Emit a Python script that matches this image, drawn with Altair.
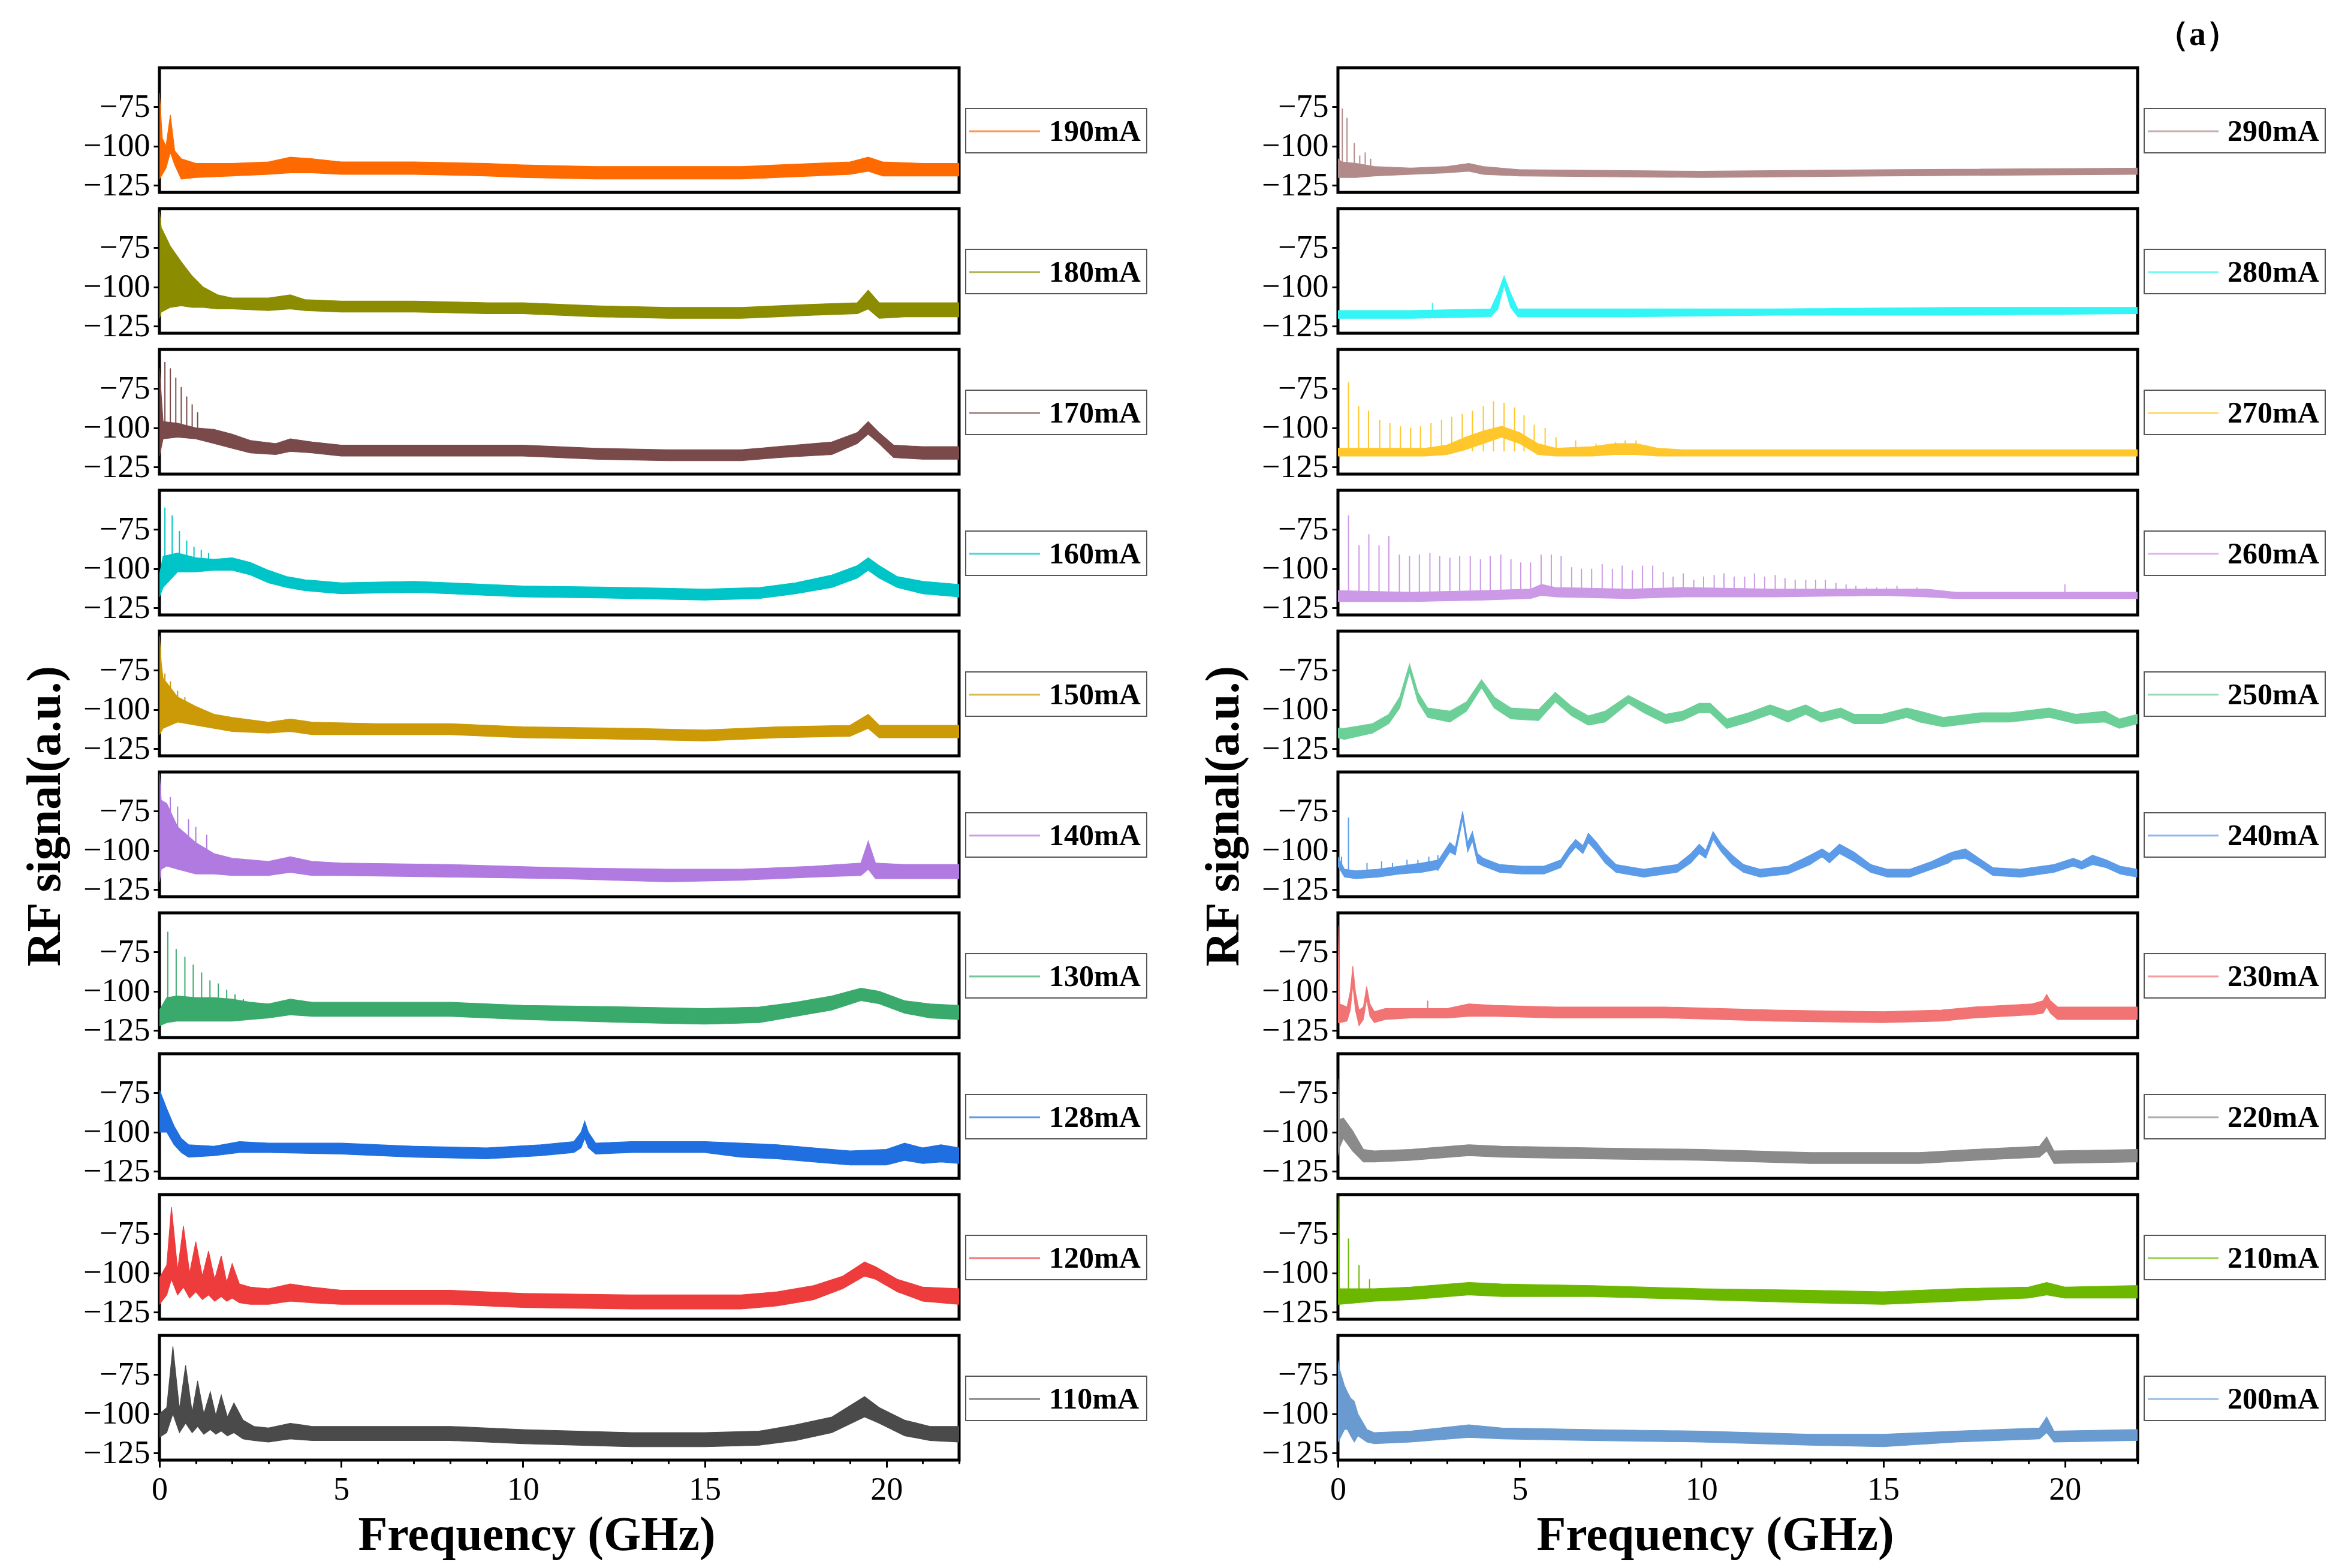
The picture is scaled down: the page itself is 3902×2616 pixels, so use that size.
import pandas as pd
import altair as alt

# ---------------- data ----------------
NAMES_LEFT = ["190mA", "180mA", "170mA", "160mA", "150mA", "140mA", "130mA", "128mA", "120mA", "110mA"]
NAMES_RIGHT = ["290mA", "280mA", "270mA", "260mA", "250mA", "240mA", "230mA", "220mA", "210mA", "200mA"]
COLORS_LEFT = ["#ff6a00", "#8c8c00", "#7a4a4a", "#00c5c8", "#cc9a06", "#b07ae0", "#3aaa6c", "#1f6fe0", "#ee3b3b", "#4a4a4a"]
COLORS_RIGHT = ["#b38a8a", "#33f5f5", "#ffc72c", "#cc99e6", "#6ccf98", "#5b9be8", "#f27373", "#8a8a8a", "#6cb800", "#6a9bd0"]

X_TICKS = [0, 1, 2, 3, 4, 5, 6, 7, 8, 9, 10, 11, 12, 13, 14, 15, 16, 17, 18, 19, 20, 21, 22]
Y_TICKS = [-75, -100, -125]

# 190 mA
F_190 = [0, 0.08, 0.18, 0.3, 0.42, 0.6, 1.0, 2.0, 3.0, 3.6, 4.2, 5.0, 7.0, 9.0, 10.0, 12.0, 14.0, 16.0, 17.0, 18.0, 19.0, 19.5, 19.9, 21.0, 22.0]
HI_190 = [-66, -95, -100, -80, -103, -108, -111, -111, -110, -107, -108, -110, -110, -111, -112, -113, -113, -113, -112, -111, -110, -107, -110, -111, -111]
LO_190 = [-121, -118, -114, -104, -112, -121, -120, -119, -118, -117, -117, -118, -118, -119, -120, -121, -121, -121, -120, -119, -118, -116, -119, -119, -119]
SF_190, SY_190, B_190 = [], [], -115

# 180 mA
F_180 = [0, 0.05, 0.3, 0.6, 0.9, 1.2, 1.6, 2.0, 3.0, 3.6, 4.0, 5.0, 7.0, 9.0, 10.0, 12.0, 14.0, 16.0, 17.0, 18.0, 19.2, 19.5, 19.8, 20.5, 22.0]
HI_180 = [-52, -62, -74, -84, -93, -100, -105, -107, -107, -105, -108, -109, -109, -110, -110, -112, -113, -113, -112, -111, -110, -102, -110, -110, -110]
LO_180 = [-120, -116, -113, -112, -113, -113, -114, -114, -115, -114, -115, -116, -116, -117, -117, -119, -120, -120, -119, -118, -117, -114, -120, -119, -119]
SF_180, SY_180, B_180 = [], [], -115

# 170 mA
F_170 = [0, 0.1, 0.5, 1.0, 1.5, 2.0, 2.5, 3.2, 3.6, 4.2, 5.0, 7.0, 10.0, 12.0, 14.0, 16.0, 17.0, 18.5, 19.2, 19.5, 19.8, 20.2, 21.0, 22.0]
HI_170 = [-62, -96, -97, -100, -101, -104, -108, -110, -107, -109, -111, -111, -111, -113, -114, -114, -112, -109, -103, -96, -103, -111, -112, -112]
LO_170 = [-118, -107, -106, -107, -110, -113, -116, -117, -115, -116, -118, -118, -118, -120, -121, -121, -119, -117, -110, -104, -110, -119, -120, -120]
SF_170 = [0.15, 0.3, 0.45, 0.6, 0.75, 0.9, 1.05]
SY_170 = [-58, -62, -68, -74, -80, -85, -90]
B_170 = -100

# 160 mA
F_160 = [0, 0.1, 0.5, 1.0, 1.5, 2.0, 2.5, 3.0, 3.5, 4.0, 5.0, 7.0, 10.0, 13.0, 15.0, 16.5, 17.5, 18.5, 19.2, 19.5, 19.8, 20.3, 21.0, 22.0]
HI_160 = [-104, -92, -90, -93, -94, -93, -96, -101, -105, -107, -109, -108, -111, -112, -113, -112, -109, -104, -98, -93, -98, -105, -108, -110]
LO_160 = [-118, -112, -102, -102, -101, -101, -104, -109, -112, -114, -116, -115, -118, -119, -120, -119, -116, -112, -106, -101, -106, -112, -116, -118]
SF_160 = [0.15, 0.35, 0.55, 0.75, 0.95, 1.15, 1.35]
SY_160 = [-61, -66, -76, -82, -86, -88, -90]
B_160 = -98

# 150 mA
F_150 = [0, 0.05, 0.1, 0.5, 1.0, 1.5, 2.0, 3.0, 3.6, 4.2, 6.0, 8.0, 10.0, 13.0, 15.0, 17.0, 19.0, 19.5, 19.8, 21.0, 22.0]
HI_150 = [-53, -70, -80, -92, -98, -103, -105, -108, -106, -108, -109, -109, -111, -112, -113, -111, -110, -103, -110, -110, -110]
LO_150 = [-116, -114, -112, -108, -110, -112, -114, -115, -114, -116, -116, -116, -118, -119, -120, -118, -117, -112, -118, -118, -118]
SF_150 = [0.15, 0.3, 0.5, 0.7]
SY_150 = [-77, -82, -88, -92]
B_150 = -105

# 140 mA
F_140 = [0, 0.05, 0.2, 0.5, 1.0, 1.5, 2.0, 3.0, 3.6, 4.2, 5.0, 8.0, 11.0, 14.0, 16.0, 18.0, 19.3, 19.5, 19.7, 20.5, 22.0]
HI_140 = [-51, -68, -70, -85, -95, -102, -105, -107, -104, -107, -108, -109, -111, -112, -112, -110, -108, -94, -108, -109, -109]
LO_140 = [-120, -112, -110, -112, -115, -115, -116, -116, -114, -116, -116, -117, -118, -120, -119, -117, -116, -112, -118, -118, -118]
SF_140 = [0.3, 0.5, 0.8, 1.0, 1.3]
SY_140 = [-66, -72, -80, -85, -90]
B_140 = -100

# 130 mA
F_130 = [0, 0.2, 0.5, 1.0, 1.5, 2.0, 2.5, 3.0, 3.6, 4.2, 5.0, 8.0, 10.0, 13.0, 15.0, 16.5, 17.5, 18.5, 19.3, 19.8, 20.5, 21.2, 22.0]
HI_130 = [-112, -104, -103, -104, -104, -105, -107, -108, -105, -107, -107, -107, -109, -110, -111, -110, -107, -103, -98, -100, -106, -108, -109]
LO_130 = [-122, -120, -119, -119, -119, -119, -118, -117, -115, -116, -116, -116, -118, -120, -121, -120, -116, -112, -106, -108, -114, -117, -118]
SF_130 = [0.23, 0.46, 0.7, 0.93, 1.16, 1.39, 1.62, 1.85, 2.08, 2.31, 2.54]
SY_130 = [-62, -73, -78, -83, -88, -93, -95, -99, -102, -105, -107]
B_130 = -117

# 128 mA
F_128 = [0, 0.2, 0.4, 0.6, 0.8, 1.5, 2.2, 3.0, 5.0, 7.0, 9.0, 10.5, 11.4, 11.6, 11.7, 11.8, 12.0, 13.0, 15.0, 16.0, 17.0, 18.0, 19.0, 20.0, 20.5, 21.0, 21.5, 22.0]
HI_128 = [-73, -85, -96, -104, -108, -109, -106, -107, -107, -109, -110, -108, -106, -100, -93, -100, -107, -106, -106, -107, -108, -110, -112, -111, -107, -110, -108, -110]
LO_128 = [-100, -100, -108, -113, -116, -115, -113, -113, -114, -116, -117, -115, -113, -110, -104, -110, -114, -113, -113, -116, -117, -119, -121, -121, -118, -120, -119, -120]
SF_128, SY_128, B_128 = [], [], -115

# 120 mA
F_120 = [0, 0.2, 0.33, 0.5, 0.66, 0.83, 1.0, 1.18, 1.35, 1.52, 1.7, 1.85, 2.0, 2.2, 2.5, 3.0, 3.6, 4.2, 5.0, 8.0, 10.0, 13.0, 16.0, 17.0, 18.0, 18.8, 19.4, 19.7, 20.3, 21.0, 22.0]
HI_120 = [-103, -95, -58, -98, -70, -100, -80, -102, -86, -104, -89, -106, -94, -107, -109, -110, -107, -109, -111, -111, -113, -114, -114, -112, -108, -102, -93, -96, -104, -109, -110]
LO_120 = [-120, -114, -104, -114, -109, -116, -112, -117, -114, -118, -115, -118, -116, -119, -120, -120, -118, -119, -120, -120, -122, -123, -123, -121, -117, -110, -102, -104, -112, -118, -120]
SF_120, SY_120, B_120 = [], [], -115

# 110 mA
F_110 = [0, 0.2, 0.37, 0.55, 0.72, 0.9, 1.05, 1.22, 1.4, 1.55, 1.7, 1.87, 2.05, 2.3, 2.6, 3.0, 3.6, 4.2, 5.0, 8.0, 10.0, 13.0, 15.0, 16.5, 17.5, 18.5, 19.4, 19.8, 20.5, 21.2, 22.0]
HI_110 = [-100, -96, -57, -97, -69, -99, -79, -100, -86, -101, -88, -102, -93, -104, -108, -109, -106, -108, -108, -108, -110, -112, -112, -111, -107, -102, -89, -96, -104, -108, -108]
LO_110 = [-115, -112, -100, -112, -106, -112, -108, -113, -110, -113, -111, -114, -112, -116, -117, -118, -116, -117, -117, -117, -119, -121, -121, -120, -117, -112, -102, -106, -114, -117, -118]
SF_110, SY_110, B_110 = [], [], -115

# 290 mA
F_290 = [0, 0.1, 0.5, 1.0, 2.0, 3.0, 3.6, 4.0, 5.0, 10.0, 15.0, 22.0]
HI_290 = [-108, -110, -111, -113, -114, -113, -111, -113, -115, -116, -115, -114]
LO_290 = [-120, -120, -120, -119, -118, -117, -116, -118, -119, -120, -119, -118]
SF_290 = [0.12, 0.25, 0.45, 0.6, 0.75, 0.9]
SY_290 = [-76, -82, -98, -106, -104, -108]
B_290 = -114

# 280 mA
F_280 = [0, 2.0, 4.2, 4.4, 4.57, 4.75, 4.95, 5.5, 8.0, 12.0, 17.0, 22.0]
HI_280 = [-115, -115, -114, -104, -93, -104, -114, -114, -114, -114, -113, -113]
LO_280 = [-120, -120, -119, -114, -99, -113, -119, -119, -119, -118, -118, -117]
SF_280 = [2.6]
SY_280 = [-110]
B_280 = -116

# 270 mA
F_270 = [0, 2.4, 3.0, 3.5, 4.0, 4.5, 5.0, 5.5, 6.0, 7.0, 7.6, 8.2, 8.8, 9.5, 15.0, 22.0]
HI_270 = [-113, -113, -111, -106, -102, -99, -103, -110, -113, -112, -110, -110, -113, -114, -114, -114]
LO_270 = [-118, -118, -117, -114, -110, -106, -110, -117, -118, -118, -117, -117, -118, -118, -118, -118]
SF_270 = [0.29, 0.57, 0.84, 1.15, 1.43, 1.72, 2.0, 2.27, 2.56, 2.85, 3.13, 3.42, 3.7, 4.0, 4.28, 4.57, 4.86, 5.12, 5.4, 5.7, 6.0, 6.54, 7.1, 7.64, 7.9, 8.2, 8.48]
SY_270 = [-71, -86, -89, -95, -97, -99, -100, -99, -97, -95, -93, -91, -89, -86, -83, -84, -87, -92, -98, -100, -106, -108, -110, -109, -108, -108, -111]
B_270 = -115

# 260 mA
F_260 = [0, 2.0, 4.0, 5.3, 5.6, 6.0, 8.0, 9.5, 12.0, 15.0, 16.2, 17.0, 22.0]
HI_260 = [-114, -115, -114, -113, -110, -112, -113, -112, -113, -113, -113, -115, -115]
LO_260 = [-121, -121, -120, -119, -117, -118, -119, -118, -118, -117, -118, -119, -119]
SF_260 = [0.29, 0.58, 0.85, 1.13, 1.40, 1.69, 1.97, 2.24, 2.53, 2.80,
          3.08, 3.35, 3.64, 3.92, 4.19, 4.48, 4.76, 5.03, 5.30, 5.59,
          5.87, 6.14, 6.43, 6.70, 6.98, 7.27, 7.55, 7.82, 8.10, 8.38,
          8.66, 8.95, 9.22, 9.50, 9.79, 10.06, 10.35, 10.62, 10.90, 11.19,
          11.46, 11.74, 12.03, 12.30, 12.58, 12.87, 13.14, 13.41, 13.70, 13.98,
          14.25, 14.54, 14.82, 15.09, 15.38, 15.66, 15.93, 20.0]
SY_260 = [-66, -85, -78, -85, -79, -91, -92, -91, -90, -92,
          -93, -92, -92, -94, -92, -91, -94, -96, -96, -91,
          -91, -92, -99, -100, -100, -97, -100, -98, -101, -98,
          -98, -102, -105, -103, -107, -105, -104, -103, -105, -105,
          -103, -105, -104, -106, -107, -107, -107, -107, -109, -110,
          -111, -112, -112, -112, -111, -113, -112, -110]
B_260 = -116

# 250 mA
F_250 = [0, 0.18, 0.95, 1.4, 1.7, 1.97, 2.2, 2.47, 3.08, 3.54, 3.95, 4.3, 4.76, 5.52, 5.98, 6.43, 6.89, 7.35, 7.99, 8.41,
         9.02, 9.48, 9.94, 10.24, 10.7, 11.3, 11.89, 12.38, 12.87, 13.29, 13.83, 14.2, 14.97, 15.65, 16.0, 16.65, 17.7, 18.5,
         19.57, 20.3, 21.1, 21.5, 22.0]
HI_250 = [-112, -112, -109, -103, -92, -71, -89, -99, -101, -95, -81, -92, -99, -100, -89, -98, -104, -101, -91, -96,
          -103, -101, -96, -96, -106, -102, -97, -101, -97, -102, -99, -103, -103, -99, -101, -105, -102, -102,
          -99, -103, -101, -106, -103]
LO_250 = [-118, -119, -115, -109, -99, -76, -95, -105, -108, -101, -86, -99, -106, -107, -95, -104, -110, -108, -96, -102,
          -109, -107, -102, -102, -112, -108, -103, -108, -103, -108, -105, -109, -109, -105, -108, -111, -108, -108,
          -105, -109, -108, -112, -109]
SF_250, SY_250, B_250 = [], [], -110

# 240 mA
F_240 = [0, 0.18, 0.49, 1.1, 1.7, 2.3, 2.77, 3.08, 3.23, 3.43, 3.57, 3.7, 3.84, 4.0, 4.45, 5.06, 5.67, 6.13, 6.36, 6.54,
         6.74, 6.89, 7.12, 7.35, 7.65, 8.41, 9.33, 9.71, 9.94, 10.12, 10.32, 10.55, 10.85, 11.16, 11.62, 12.38, 12.99, 13.32,
         13.52, 13.8, 14.2, 14.66, 15.12, 15.73, 16.34, 16.8, 16.92, 17.26, 17.64, 18.02, 18.78, 19.7, 20.23, 20.46, 20.76,
         21.14, 21.52, 21.98]
HI_240 = [-104, -112, -113, -112, -110, -108, -106, -95, -98, -75, -95, -88, -102, -105, -109, -110, -110, -106, -98, -93,
          -97, -89, -95, -102, -109, -112, -109, -102, -96, -100, -88, -96, -103, -109, -112, -110, -103, -99,
          -102, -96, -101, -109, -112, -112, -107, -102, -101, -99, -105, -111, -112, -109, -105, -107, -103,
          -106, -110, -112]
LO_240 = [-110, -117, -118, -117, -115, -114, -112, -101, -103, -80, -101, -94, -108, -110, -114, -115, -115, -111, -103, -98,
          -102, -95, -101, -108, -114, -117, -114, -108, -102, -105, -93, -101, -109, -114, -117, -115, -109, -104,
          -108, -102, -107, -114, -117, -117, -112, -108, -106, -105, -110, -116, -117, -114, -110, -112, -109,
          -111, -115, -117]
SF_240 = [0.1, 0.29, 0.8, 1.2, 1.5, 1.9, 2.2, 2.5, 2.75]
SY_240 = [-104, -79, -108, -107, -108, -106, -106, -104, -103]
B_240 = -113

# 230 mA
F_230 = [0, 0.05, 0.25, 0.34, 0.41, 0.48, 0.58, 0.7, 0.79, 0.88, 1.0, 1.3, 2.0, 3.0, 3.6, 4.3, 6.0, 9.0, 12.0, 15.0,
         16.6, 17.5, 19.1, 19.4, 19.5, 19.6, 19.8, 22.0]
HI_230 = [-58, -108, -110, -100, -84, -100, -112, -110, -97, -108, -113, -111, -111, -111, -108, -109, -110, -110, -112, -113,
          -112, -110, -108, -106, -102, -106, -110, -110]
LO_230 = [-120, -120, -119, -112, -96, -112, -122, -118, -105, -116, -120, -118, -117, -117, -116, -116, -117, -117, -119, -120,
          -119, -117, -115, -114, -110, -114, -118, -118]
SF_230 = [2.47]
SY_230 = [-106]
B_230 = -112

# 220 mA
F_220 = [0, 0.04, 0.15, 0.4, 0.7, 1.0, 2.0, 3.6, 4.5, 7.0, 10.0, 13.0, 16.0, 17.5, 19.3, 19.5, 19.7, 22.0]
HI_220 = [-66, -92, -91, -99, -111, -112, -111, -108, -109, -110, -111, -113, -113, -111, -109, -103, -112, -111]
LO_220 = [-115, -110, -104, -112, -119, -119, -118, -115, -116, -117, -118, -120, -120, -118, -116, -112, -120, -119]
SF_220, SY_220, B_220 = [], [], -115

# 210 mA
F_210 = [0, 0.04, 1.0, 2.0, 3.6, 4.5, 7.0, 10.0, 13.0, 15.0, 17.0, 19.0, 19.5, 20.0, 22.0]
HI_210 = [-51, -110, -110, -109, -106, -107, -108, -110, -111, -112, -110, -109, -106, -109, -108]
LO_210 = [-120, -120, -118, -117, -114, -115, -115, -117, -119, -120, -118, -116, -114, -116, -116]
SF_210 = [0.29, 0.58, 0.87]
SY_210 = [-78, -95, -104]
B_210 = -114

# 200 mA
F_200 = [0, 0.05, 0.18, 0.26, 0.35, 0.45, 0.55, 0.8, 1.0, 2.0, 3.6, 4.5, 7.0, 10.0, 13.0, 15.0, 17.0, 19.3, 19.5, 19.7, 22.0]
HI_200 = [-66, -72, -82, -86, -90, -92, -100, -110, -112, -111, -107, -109, -110, -111, -113, -113, -111, -109, -102, -111, -110]
LO_200 = [-118, -116, -110, -110, -114, -118, -114, -118, -119, -118, -115, -116, -117, -118, -120, -121, -118, -116, -112, -118, -117]
SF_200, SY_200, B_200 = [], [], -115

LEFT = [(F_190, HI_190, LO_190, SF_190, SY_190, B_190),
        (F_180, HI_180, LO_180, SF_180, SY_180, B_180),
        (F_170, HI_170, LO_170, SF_170, SY_170, B_170),
        (F_160, HI_160, LO_160, SF_160, SY_160, B_160),
        (F_150, HI_150, LO_150, SF_150, SY_150, B_150),
        (F_140, HI_140, LO_140, SF_140, SY_140, B_140),
        (F_130, HI_130, LO_130, SF_130, SY_130, B_130),
        (F_128, HI_128, LO_128, SF_128, SY_128, B_128),
        (F_120, HI_120, LO_120, SF_120, SY_120, B_120),
        (F_110, HI_110, LO_110, SF_110, SY_110, B_110)]
RIGHT = [(F_290, HI_290, LO_290, SF_290, SY_290, B_290),
         (F_280, HI_280, LO_280, SF_280, SY_280, B_280),
         (F_270, HI_270, LO_270, SF_270, SY_270, B_270),
         (F_260, HI_260, LO_260, SF_260, SY_260, B_260),
         (F_250, HI_250, LO_250, SF_250, SY_250, B_250),
         (F_240, HI_240, LO_240, SF_240, SY_240, B_240),
         (F_230, HI_230, LO_230, SF_230, SY_230, B_230),
         (F_220, HI_220, LO_220, SF_220, SY_220, B_220),
         (F_210, HI_210, LO_210, SF_210, SY_210, B_210),
         (F_200, HI_200, LO_200, SF_200, SY_200, B_200)]

# ---------------- styling ----------------
FONT = "Liberation Serif"
W, H = 1334, 208
Y_DOM = [-129.5, -50]
TITLE_PANEL = 5
# legend box placed to the right of each panel (pixels from the panel's top-left)
LG_X, LG_Y, LG_W, LG_H = W + 11, 68, 302, 74


def x_enc(field, bottom):
    if bottom:
        axis = alt.Axis(values=X_TICKS, labelExpr="datum.value % 5 == 0 ? datum.label : ''",
                        tickSize={"condition": {"test": "datum.value % 5 === 0", "value": 12}, "value": 6},
                        labelOverlap=False, labelFlush=False, labelPadding=10,
                        title="Frequency (GHz)", titleFontSize=80, titlePadding=10, titleX=629)
    else:
        axis = None
    return alt.X(f"{field}:Q", scale=alt.Scale(domain=[0, 22], nice=False, zero=False), axis=axis)


def y_enc(field, with_title):
    axis = alt.Axis(values=Y_TICKS, tickSize=10, labelPadding=6,
                    title="RF signal(a.u.)" if with_title else None,
                    titleFontSize=80, titleY=73, titlePadding=22)
    return alt.Y(f"{field}:Q", scale=alt.Scale(domain=Y_DOM, nice=False, zero=False), axis=axis)


def panel(name, color, spec, idx, tag=False):
    f, hi, lo, sf, sy, base = spec
    assert len(f) == len(hi) == len(lo) and len(sf) == len(sy)
    bottom = idx == 9
    with_title = idx == TITLE_PANEL
    band = pd.DataFrame({"f": f, "hi": hi, "lo": lo})
    area = alt.Chart(band).mark_area(clip=True, color=color, stroke=color, strokeWidth=1.2, opacity=1).encode(
        x=x_enc("f", bottom),
        y=y_enc("lo", with_title),
        y2="hi:Q",
    )
    layers = [area]
    if sf:
        spikes = pd.DataFrame({"f": sf, "top": sy, "base": base})
        layers.append(alt.Chart(spikes).mark_rule(color=color, strokeWidth=2, clip=True).encode(
            x=x_enc("f", bottom), y=y_enc("top", with_title), y2="base:Q"))

    # legend box: frame, short line sample and bold label
    lg = pd.DataFrame({"label": [name]})
    box = alt.Chart(lg).mark_rect(fill="white", stroke="#555555", strokeWidth=2).encode(
        x=alt.value(LG_X), x2=alt.value(LG_X + LG_W), y=alt.value(LG_Y), y2=alt.value(LG_Y + LG_H))
    sample = alt.Chart(lg).mark_rule(color=color, strokeWidth=3, opacity=0.7).encode(
        x=alt.value(LG_X + 6), x2=alt.value(LG_X + 124), y=alt.value(LG_Y + 38))
    text = alt.Chart(lg).mark_text(font=FONT, fontSize=50, fontWeight="bold", color="black",
                                   align="left", baseline="middle").encode(
        text="label:N", x=alt.value(LG_X + 139), y=alt.value(LG_Y + 39))
    layers += [box, sample, text]

    if tag:
        lab = pd.DataFrame({"t": ["（a）"]})
        layers.append(alt.Chart(lab).mark_text(font=FONT, fontSize=56, fontWeight="bold", color="black",
                                               align="center", baseline="middle").encode(
            text="t:N", x=alt.value(1434), y=alt.value(-55)))
    return alt.layer(*layers).properties(width=W, height=H)


left = alt.vconcat(*[panel(n, c, s, i) for i, (n, c, s) in enumerate(zip(NAMES_LEFT, COLORS_LEFT, LEFT))],
                   spacing=27, bounds="flush")
right = alt.vconcat(*[panel(n, c, s, i, tag=(i == 0)) for i, (n, c, s) in enumerate(zip(NAMES_RIGHT, COLORS_RIGHT, RIGHT))],
                    spacing=27, bounds="flush")

# with flush bounds a nested column counts as zero wide, so the spacing is panel width + gap
chart = alt.hconcat(left, right, spacing=W + 632, bounds="flush",
                    padding={"left": 25, "top": 19, "right": 5, "bottom": 5}).configure_view(
    stroke="black", strokeWidth=5
).configure_axis(
    labelFont=FONT, labelFontSize=54, labelColor="black", tickColor="black", tickWidth=3,
    domain=False, grid=False, titleFont=FONT, titleFontWeight="bold", titleColor="black"
)

chart.save("out.html", embed_options={"renderer": "svg", "actions": False})
